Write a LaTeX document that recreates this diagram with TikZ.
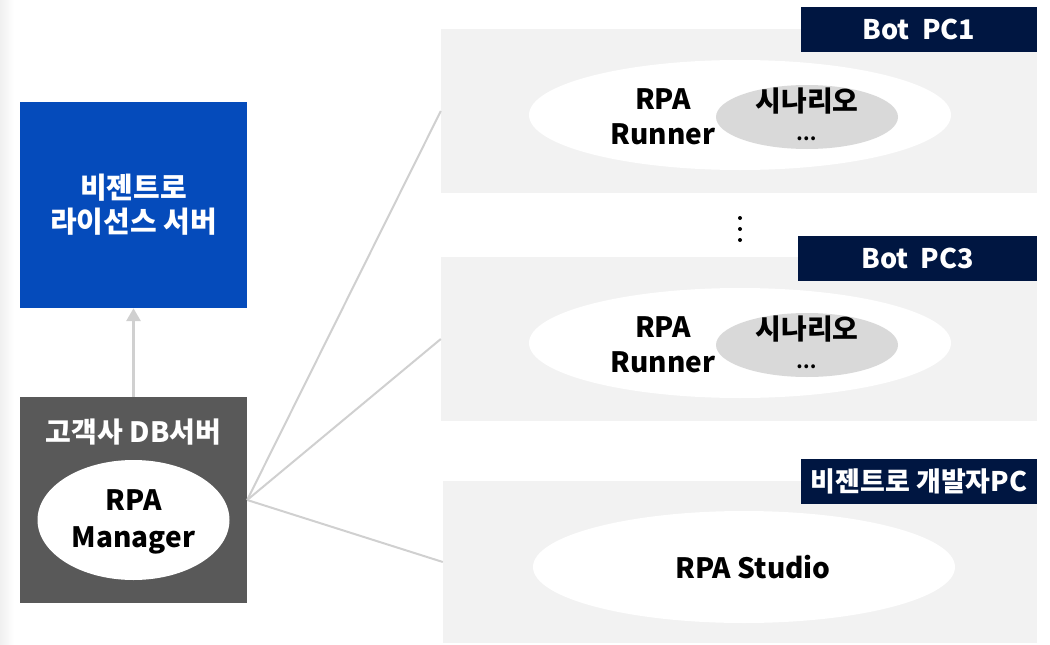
\documentclass[tikz,border=0pt]{standalone}
\usepackage{fontspec}
\setmainfont{Noto Sans CJK KR}
\usepackage{tikz}
\usetikzlibrary{shapes.geometric,arrows.meta}

\definecolor{licblue}{HTML}{054BBB}
\definecolor{dbgray}{HTML}{595959}
\definecolor{panelgray}{HTML}{F2F2F2}
\definecolor{navy}{HTML}{001641}
\definecolor{linegray}{HTML}{D0D0D0}
\definecolor{scengray}{HTML}{D9D9D9}

\tikzset{
  panel/.style={fill=panelgray, minimum width=596pt, minimum height=164pt, inner sep=0pt},
  tag/.style={fill=navy, text=white, font=\bfseries\fontsize{27}{30}\selectfont, minimum height=45pt, inner sep=0pt},
  runner/.style={ellipse, fill=white, minimum width=422pt, minimum height=110pt, inner sep=0pt},
  scen/.style={ellipse, fill=scengray, minimum width=182pt, minimum height=64pt, inner sep=0pt},
  btext/.style={font=\bfseries\fontsize{28}{35}\selectfont, align=center}
}
\newcommand{\scendots}{\raisebox{6pt}{\fontsize{18}{18}\selectfont …}}

\begin{document}
\begin{tikzpicture}[x=1pt, y=-1pt]
          \useasboundingbox (0, 0) rectangle (1050, 645);
          \shade [left color=black!6, right color=white] (0, 0) rectangle (14, 645);

          % left side
          \node [fill=licblue, minimum width=227pt, minimum height=206pt, inner sep=0pt] (lic) at (133.5, 205) {};
          \node [btext, text=white, font=\bfseries\fontsize{29}{34}\selectfont] (lictext) at (133.5, 205) {비젠트로\\라이선스 서버};
          \node [fill=dbgray, minimum width=227pt, minimum height=206pt, inner sep=0pt] (db) at (133.5, 500) {};
          \node [btext, text=white] (dbtext) at (133.5, 432) {고객사 DB서버};
          \node [ellipse, fill=white, minimum width=192pt, minimum height=120pt, inner sep=0pt] (mgr) at (133.5, 520) {};
          \node [btext, font=\bfseries\fontsize{28}{37}\selectfont] (mgrtext) at (133.5, 522) {RPA\\Manager};

          \draw [linegray, line width=3pt, -{Triangle[width=14pt, length=13pt]}] (db.north) -- (lic.south);

          % Bot PC1
          \node [panel] (pc1) at (739, 111) {};
          \node [tag, minimum width=236pt] (pc1tag) at (919, 29.5) {Bot\ \ PC1};
          \node [runner] (run1) at (740, 115) {};
          \node [scen] (scen1) at (807, 117) {};
          \node [btext] (run1text) at (663, 117) {RPA\\Runner};
          \node [btext] (scen1text) at (807, 117) {시나리오\\\scendots};

          % dots
          \fill (740, 218) circle (2pt) (740, 229) circle (2pt) (740, 240) circle (2pt);

          % Bot PC3
          \node [panel] (pc3) at (739, 339) {};
          \node [tag, minimum width=239pt] (pc3tag) at (917.5, 258) {Bot\ \ PC3};
          \node [runner] (run3) at (740, 343) {};
          \node [scen] (scen3) at (807, 345) {};
          \node [btext] (run3text) at (663, 345) {RPA\\Runner};
          \node [btext] (scen3text) at (807, 345) {시나리오\\\scendots};

          % developer PC
          \node [panel, minimum width=594pt, minimum height=162pt] (dev) at (740, 562) {};
          \node [tag, minimum width=236pt] (devtag) at (919, 481) {비젠트로 개발자PC};
          \node [runner, minimum width=422pt, minimum height=112pt] (studio) at (744, 567) {};
          \node [btext] (studiotext) at (753, 567) {RPA Studio};

          % connectors
          \draw [linegray, line width=2pt] (db.east) -- (pc1.west);
          \draw [linegray, line width=2pt] (db.east) -- (pc3.west);
          \draw [linegray, line width=2pt] (db.east) -- (dev.west);
        \end{tikzpicture}
\end{document}
